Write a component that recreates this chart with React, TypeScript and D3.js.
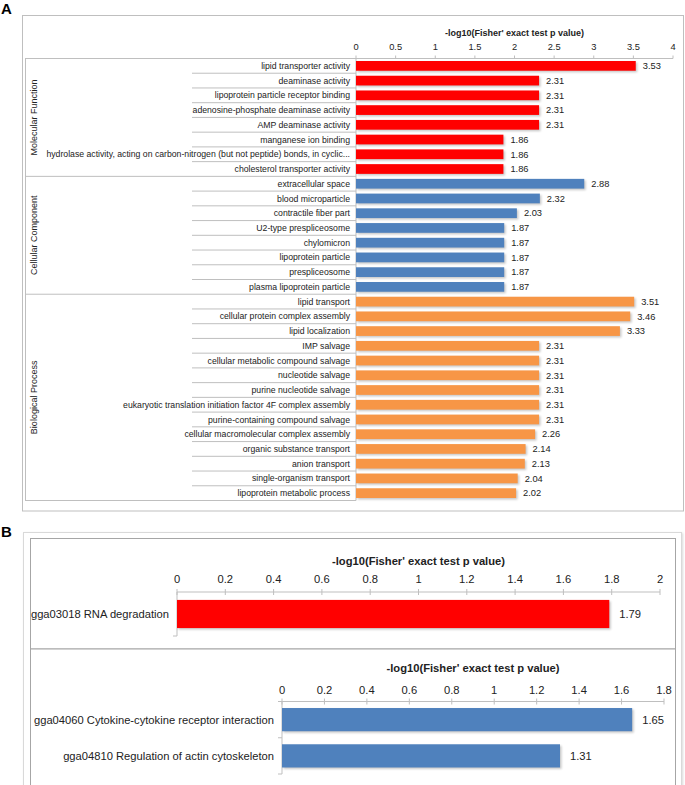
import React from "react";
import * as d3 from "d3";

// ---------- DATA ----------
const groupNames = ["Molecular Function", "Cellular Component", "Biological Process"];

const mfLabels = [
  "lipid transporter activity",
  "deaminase activity",
  "lipoprotein particle receptor binding",
  "adenosine-phosphate deaminase activity",
  "AMP deaminase activity",
  "manganese ion binding",
  "hydrolase activity, acting on carbon-nitrogen (but not peptide) bonds, in cyclic...",
  "cholesterol transporter activity",
];
const mfValues = [3.53, 2.31, 2.31, 2.31, 2.31, 1.86, 1.86, 1.86];

const ccLabels = [
  "extracellular space",
  "blood microparticle",
  "contractile fiber part",
  "U2-type prespliceosome",
  "chylomicron",
  "lipoprotein particle",
  "prespliceosome",
  "plasma lipoprotein particle",
];
const ccValues = [2.88, 2.32, 2.03, 1.87, 1.87, 1.87, 1.87, 1.87];

const bpLabels = [
  "lipid transport",
  "cellular protein complex assembly",
  "lipid localization",
  "IMP salvage",
  "cellular metabolic compound salvage",
  "nucleotide salvage",
  "purine nucleotide salvage",
  "eukaryotic translation initiation factor 4F complex assembly",
  "purine-containing compound salvage",
  "cellular macromolecular complex assembly",
  "organic substance transport",
  "anion transport",
  "single-organism transport",
  "lipoprotein metabolic process",
];
const bpValues = [3.51, 3.46, 3.33, 2.31, 2.31, 2.31, 2.31, 2.31, 2.31, 2.26, 2.14, 2.13, 2.04, 2.02];

const ticksA = [0, 0.5, 1, 1.5, 2, 2.5, 3, 3.5, 4];

const kegg1Labels = ["gga03018 RNA degradation"];
const kegg1Values = [1.79];
const ticksB1 = [0, 0.2, 0.4, 0.6, 0.8, 1, 1.2, 1.4, 1.6, 1.8, 2];

const kegg2Labels = ["gga04060 Cytokine-cytokine receptor interaction", "gga04810 Regulation of actin cytoskeleton"];
const kegg2Values = [1.65, 1.31];
const ticksB2 = [0, 0.2, 0.4, 0.6, 0.8, 1, 1.2, 1.4, 1.6, 1.8];

const axisTitle = "-log10(Fisher' exact test p value)";

// ---------- STYLE ----------
const FONT = "'Liberation Sans Narrow', 'Arial Narrow', 'Liberation Sans', sans-serif";
const RED = "#ff0000";
const BLUE = "#4f81bd";
const ORANGE = "#f79646";
const GRID = "#bfbfbf";
const TXT = "#222";

const fmt = (v: number) => d3.format(".2f")(v);
const tfmt = (v: number) => String(+v.toFixed(1));

export default function App() {
  // ----- Panel A -----
  const groups = [
    { name: groupNames[0], labels: mfLabels, values: mfValues, color: RED },
    { name: groupNames[1], labels: ccLabels, values: ccValues, color: BLUE },
    { name: groupNames[2], labels: bpLabels, values: bpValues, color: ORANGE },
  ];
  const rows: { label: string; value: number; color: string; g: number }[] = [];
  groups.forEach((g, gi) => g.labels.forEach((l, i) => rows.push({ label: l, value: g.values[i], color: g.color, g: gi })));

  const topA = 58.5, botA = 500.5;
  const xA = d3.scaleLinear().domain([0, 4]).range([356, 673]);
  const pA = 0.34;
  const yA = d3.scaleBand<number>().domain(d3.range(rows.length)).range([topA, botA]).paddingInner(pA).paddingOuter(pA / 2);
  const stepA = yA.step();
  const boundary = (i: number) => topA + i * stepA;
  const groupStarts = [0, mfLabels.length, mfLabels.length + ccLabels.length, rows.length];

  // ----- Panel B1 -----
  const xB1 = d3.scaleLinear().domain([0, 2]).range([177, 660]);
  const yB1 = d3.scaleBand<number>().domain(d3.range(kegg1Labels.length)).range([592, 636]).paddingInner(0.36).paddingOuter(0.18);
  // ----- Panel B2 -----
  const xB2 = d3.scaleLinear().domain([0, 1.8]).range([282, 664]);
  const yB2 = d3.scaleBand<number>().domain(d3.range(kegg2Labels.length)).range([701.5, 774]).paddingInner(0.36).paddingOuter(0.18);

  const fsA = 8.7;
  const fsAv = 9.3;
  const fsB = 11.2;

  const barShadow = (x: number, y: number, w: number, h: number, key: string) => (
    <rect key={key} x={x + 1.5} y={y + 1.5} width={w} height={h} fill="#000" opacity={0.22} filter="url(#blur)" />
  );

  return (
    <svg width={685} height={785} style={{ position: "absolute", left: 0, top: 0, background: "#fff" }} fontFamily={FONT}>
      <defs>
        <filter id="blur" x="-5%" y="-30%" width="110%" height="160%">
          <feGaussianBlur stdDeviation="0.8" />
        </filter>
        <filter id="boxshadow" x="-2%" y="-2%" width="104%" height="104%">
          <feDropShadow dx="1" dy="1" stdDeviation="1.2" floodColor="#000" floodOpacity="0.15" />
        </filter>
      </defs>
      <rect x={0} y={0} width={685} height={785} fill="#fff" />

      {/* ===== Panel A ===== */}
      <text x={1} y={14} fontFamily="'Liberation Sans', Arial, sans-serif" fontWeight="bold" fontSize={15} fill="#000">A</text>
      <rect x={22.5} y={15.5} width={661} height={495.5} fill="#fff" stroke={GRID} strokeWidth={1} />

      <text x={(xA(0) + xA(4)) / 2} y={36} textAnchor="middle" fontWeight="bold" fontSize={fsA + 0.3} fill={TXT}>{axisTitle}</text>
      {ticksA.map((t) => (
        <g key={"ta" + t}>
          <text x={xA(t)} y={50} textAnchor="middle" fontSize={fsAv} fill={TXT}>{tfmt(t)}</text>
          <line x1={xA(t)} x2={xA(t)} y1={topA - 3} y2={topA} stroke={GRID} />
        </g>
      ))}
      <line x1={25} x2={xA(4)} y1={topA} y2={topA} stroke={GRID} />
      <line x1={xA(0)} x2={xA(0)} y1={topA} y2={botA} stroke={GRID} />
      <line x1={25.5} x2={25.5} y1={topA} y2={botA} stroke={GRID} />
      {groupStarts.slice(1).map((gi) => (
        <line key={"gs" + gi} x1={25} x2={xA(0)} y1={boundary(gi)} y2={boundary(gi)} stroke={GRID} />
      ))}
      {rows.map((r, i) =>
        i > 0 && !groupStarts.includes(i) ? (
          <line key={"rs" + i} x1={192} x2={xA(0)} y1={boundary(i)} y2={boundary(i)} stroke={GRID} />
        ) : null
      )}
      {groups.map((g, gi) => {
        const cy = (boundary(groupStarts[gi]) + boundary(groupStarts[gi + 1])) / 2;
        return (
          <text key={"gn" + gi} transform={`translate(36.5,${cy}) rotate(-90)`} textAnchor="middle" fontSize={fsA + 0.3} fill={TXT}>
            {g.name}
          </text>
        );
      })}
      {rows.map((r, i) => {
        const y = yA(i)!;
        const h = yA.bandwidth();
        const w = xA(r.value) - xA(0);
        return (
          <g key={"ra" + i}>
            {barShadow(xA(0), y, w, h, "sh")}
            <rect x={xA(0)} y={y} width={w} height={h} fill={r.color} />
            <text x={xA(0) - 6} y={y + h / 2} dy="0.35em" textAnchor="end" fontSize={fsA} fill={TXT}>{r.label}</text>
            <text x={xA(r.value) + 7} y={y + h / 2} dy="0.35em" fontSize={fsAv} fill={TXT}>{fmt(r.value)}</text>
          </g>
        );
      })}

      {/* ===== Panel B ===== */}
      <text x={1} y={537} fontFamily="'Liberation Sans', Arial, sans-serif" fontWeight="bold" fontSize={15} fill="#000">B</text>
      <rect x={23.5} y={532.5} width={658} height={260} fill="#fff" stroke="#d9d9d9" filter="url(#boxshadow)" />
      <rect x={30.5} y={538.5} width={645} height={110.5} fill="#fff" stroke="#a6a6a6" />
      <rect x={30.5} y={649} width={645} height={150} fill="#fff" stroke="#a6a6a6" />

      {/* B1 */}
      <text x={(xB1(0) + xB1(2)) / 2} y={565} textAnchor="middle" fontWeight="bold" fontSize={fsB} fill={TXT}>{axisTitle}</text>
      {ticksB1.map((t) => (
        <g key={"tb1" + t}>
          <text x={xB1(t)} y={583} textAnchor="middle" fontSize={fsB} fill={TXT}>{tfmt(t)}</text>
          <line x1={xB1(t)} x2={xB1(t)} y1={589} y2={595} stroke={GRID} />
        </g>
      ))}
      <line x1={xB1(0)} x2={xB1(2)} y1={592} y2={592} stroke={GRID} />
      <line x1={xB1(0)} x2={xB1(0)} y1={592} y2={636} stroke={GRID} />
      <line x1={xB1(0) - 4} x2={xB1(0)} y1={636} y2={636} stroke={GRID} />
      {kegg1Labels.map((l, i) => {
        const y = yB1(i)!;
        const h = yB1.bandwidth();
        const w = xB1(kegg1Values[i]) - xB1(0);
        return (
          <g key={"b1" + i}>
            {barShadow(xB1(0), y, w, h, "sh")}
            <rect x={xB1(0)} y={y} width={w} height={h} fill={RED} />
            <text x={xB1(0) - 8} y={y + h / 2} dy="0.35em" textAnchor="end" fontSize={fsB} fill={TXT}>{l}</text>
            <text x={xB1(kegg1Values[i]) + 10} y={y + h / 2} dy="0.35em" fontSize={fsB} fill={TXT}>{fmt(kegg1Values[i])}</text>
          </g>
        );
      })}

      {/* B2 */}
      <text x={(xB2(0) + xB2(1.8)) / 2} y={672} textAnchor="middle" fontWeight="bold" fontSize={fsB} fill={TXT}>{axisTitle}</text>
      {ticksB2.map((t) => (
        <g key={"tb2" + t}>
          <text x={xB2(t)} y={694} textAnchor="middle" fontSize={fsB} fill={TXT}>{tfmt(t)}</text>
          <line x1={xB2(t)} x2={xB2(t)} y1={698.5} y2={704.5} stroke={GRID} />
        </g>
      ))}
      <line x1={xB2(0)} x2={xB2(1.8)} y1={701.5} y2={701.5} stroke={GRID} />
      <line x1={xB2(0)} x2={xB2(0)} y1={701.5} y2={774} stroke={GRID} />
      {d3.range(kegg2Labels.length + 1).map((i) => (
        <line key={"ct" + i} x1={xB2(0) - 4} x2={xB2(0)} y1={701.5 + i * yB2.step()} y2={701.5 + i * yB2.step()} stroke={GRID} />
      ))}
      {kegg2Labels.map((l, i) => {
        const y = yB2(i)!;
        const h = yB2.bandwidth();
        const w = xB2(kegg2Values[i]) - xB2(0);
        return (
          <g key={"b2" + i}>
            {barShadow(xB2(0), y, w, h, "sh")}
            <rect x={xB2(0)} y={y} width={w} height={h} fill={BLUE} />
            <text x={xB2(0) - 8} y={y + h / 2} dy="0.35em" textAnchor="end" fontSize={fsB} fill={TXT}>{l}</text>
            <text x={xB2(kegg2Values[i]) + 10} y={y + h / 2} dy="0.35em" fontSize={fsB} fill={TXT}>{fmt(kegg2Values[i])}</text>
          </g>
        );
      })}
    </svg>
  );
}
